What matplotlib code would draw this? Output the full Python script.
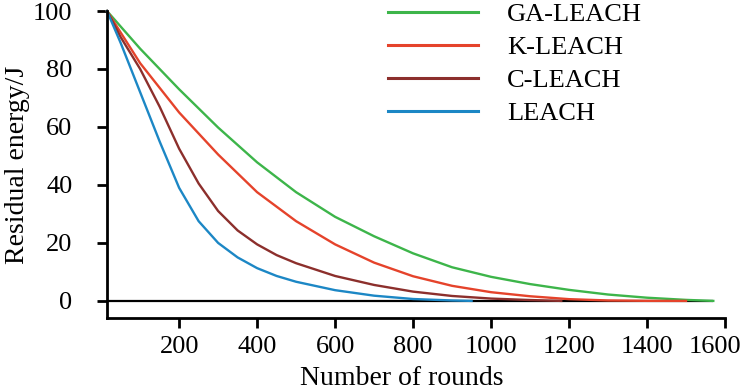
import matplotlib
matplotlib.use("Agg")
import matplotlib.pyplot as plt
import matplotlib.transforms as mtransforms

plt.rcParams["font.family"] = ["Liberation Serif", "DejaVu Serif"]

# values (rounds vs residual energy in J)
rounds_ga = [15, 100, 200, 300, 400, 500, 600, 700, 800, 900, 1000, 1100, 1200, 1300, 1400, 1500, 1570]
energy_ga = [100, 87, 73, 59.8, 47.8, 37.5, 29, 22.3, 16.4, 11.6, 8.3, 5.8, 3.8, 2.2, 1.1, 0.35, 0]

rounds_k = [15, 100, 200, 300, 400, 500, 600, 700, 800, 900, 1000, 1100, 1200, 1300, 1400, 1500]
energy_k = [100, 82, 65, 50.5, 37.5, 27.5, 19.5, 13.2, 8.5, 5.2, 3, 1.6, 0.6, 0.15, 0.02, 0]

rounds_c = [15, 50, 100, 150, 200, 250, 300, 350, 400, 450, 500, 600, 700, 800, 900, 1000, 1100, 1180]
energy_c = [100, 91, 80, 67, 52.5, 40.5, 31, 24.3, 19.5, 15.8, 13, 8.6, 5.5, 3.2, 1.7, 0.8, 0.3, 0]

rounds_l = [15, 50, 100, 150, 200, 250, 300, 350, 400, 450, 500, 600, 700, 800, 900, 950]
energy_l = [100, 89, 72, 55, 39, 27.5, 20, 15, 11.3, 8.6, 6.6, 3.7, 1.8, 0.65, 0.15, 0]

labels = ["GA-LEACH", "K-LEACH", "C-LEACH", "LEACH"]
colors = ["#3db54a", "#e5432b", "#8c2f2c", "#1c87c5"]

fig = plt.figure(figsize=(7.42, 3.91), dpi=100)
ax = fig.add_axes([107 / 742, 1 - 318 / 391, (725 - 107) / 742, (318 - 11) / 391])

ax.hlines(0, 15, 1570, color="k", lw=1.6, zorder=1)
series = [(rounds_ga, energy_ga), (rounds_k, energy_k), (rounds_c, energy_c), (rounds_l, energy_l)]
for (x, y), lab, c in zip(series, labels, colors):
    ax.plot(x, y, color=c, lw=1.7, label=lab, clip_on=False, zorder=2)

ax.set_xlim(15, 1600)
ax.set_ylim(-5.9, 100)
ax.set_xticks([200, 400, 600, 800, 1000, 1200, 1400, 1600])
ax.set_yticks([0, 20, 40, 60, 80, 100])

for s in ["top", "right"]:
    ax.spines[s].set_visible(False)
for s in ["left", "bottom"]:
    ax.spines[s].set_linewidth(2)

ax.tick_params(axis="x", direction="out", length=7, width=2, labelsize=19, pad=6)
ax.tick_params(axis="y", direction="out", length=7, width=2, labelsize=19, pad=18)

# last x label sits a bit to the left in the reference
fig.canvas.draw()
last = ax.get_xticklabels()[-1]
last.set_transform(last.get_transform() + mtransforms.ScaledTranslation(-10 / 100, 0, fig.dpi_scale_trans))

ax.set_xlabel("Number of rounds", fontsize=20)
ax.xaxis.set_label_coords(0.477, -0.155)
ax.set_ylabel("Residual energy/J", fontsize=20)
ax.yaxis.set_label_coords(-0.125, 0.5)

ax.legend(loc="upper left", bbox_to_anchor=(388 / 742, 1 - 3 / 391), bbox_transform=fig.transFigure,
          frameon=False, fontsize=19, handlelength=3.4, handletextpad=1.1,
          labelspacing=0.36, borderpad=0, borderaxespad=0)
for line in ax.get_legend().get_lines():
    line.set_linewidth(2.2)

fig.savefig("out.png", dpi=100)
